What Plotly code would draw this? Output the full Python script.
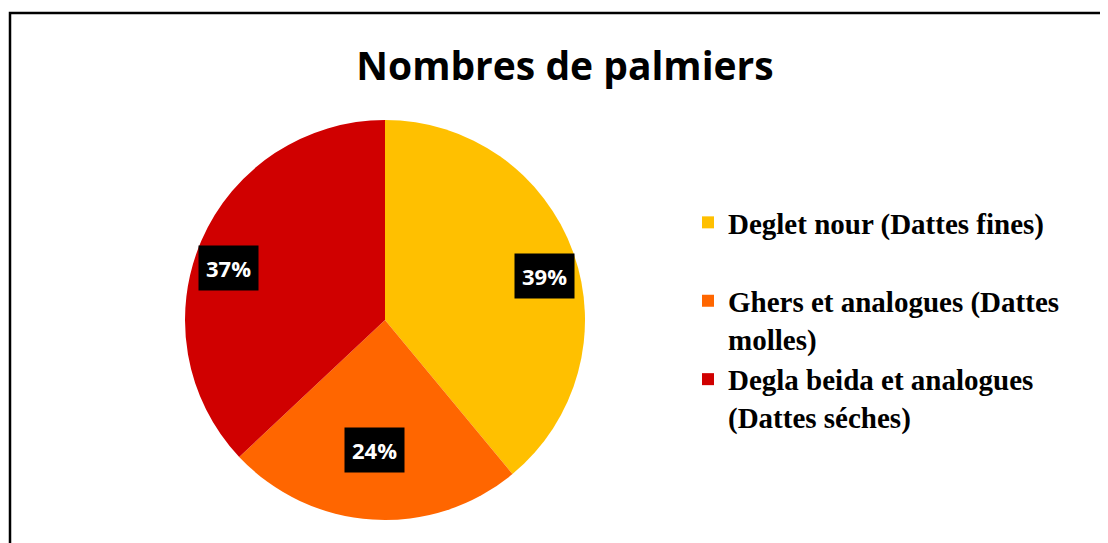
import math
import plotly.graph_objects as go

categories = ["<b>Deglet nour (Dattes fines)</b><br> ",
              "<b>Ghers et analogues (Dattes</b><br><b>molles)</b>",
              "<b>Degla beida et analogues</b><br><b>(Dattes séches)</b>"]
values = [39, 24, 37]
colors = ["#FFC000", "#FF6600", "#D00000"]

W, H = 1108, 543
OFF = 8  # page body margin
fig = go.Figure()

dom_x = [(385 - OFF - 205) / W, (385 - OFF + 205) / W]
dom_y = [1 - (520 - OFF) / H, 1 - (120 - OFF) / H]

fig.add_trace(go.Pie(
    labels=categories, values=values, sort=False, direction="clockwise",
    rotation=0, marker=dict(colors=colors, line=dict(width=0)),
    textinfo="none", hoverinfo="label+percent",
    domain=dict(x=dom_x, y=dom_y),
))

# percentage boxes placed from each slice's mid-angle
total = sum(values)
cx = (dom_x[0] + dom_x[1]) / 2
cy = (dom_y[0] + dom_y[1]) / 2
rpx = min((dom_x[1] - dom_x[0]) * W, (dom_y[1] - dom_y[0]) * H) / 2
cum = 0
for v in values:
    mid = (cum + v / 2) / total * 2 * math.pi
    cum += v
    kx, ky = 0.85, 0.65
    fig.add_annotation(
        x=cx + rpx * kx * math.sin(mid) / W, y=cy + rpx * ky * math.cos(mid) / H,
        xref="paper", yref="paper", showarrow=False,
        xanchor="center", yanchor="middle",
        text=f"<b>{round(v / total * 100)}%</b>",
        font=dict(family="Open Sans", size=22, color="white"),
        bgcolor="black", borderpad=7,
    )

fig.add_shape(type="rect", xref="paper", yref="paper",
              x0=(10 - OFF) / W, x1=1.02, y0=-0.02, y1=1 - (13 - OFF) / H,
              line=dict(color="black", width=2.5))

fig.update_layout(
    width=W, height=H, margin=dict(l=0, r=0, t=0, b=0),
    paper_bgcolor="white", plot_bgcolor="white",
    title=dict(text="<b>Nombres de palmiers</b>", x=(565 - OFF) / W, xanchor="center",
               y=1 - (66 - OFF) / H, yanchor="middle",
               font=dict(family="Open Sans", size=39, color="black")),
    legend=dict(x=(688 - OFF) / W, y=1 - (197 - OFF) / H, xanchor="left", yanchor="top",
                valign="top",
                font=dict(family="Liberation Serif", size=29, color="black")),
    showlegend=True,
)

fig.write_html("out.html")
